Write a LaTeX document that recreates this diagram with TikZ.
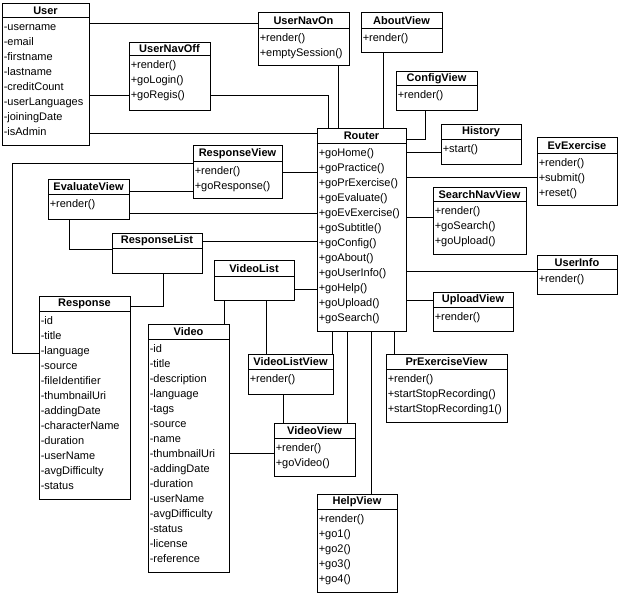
\documentclass[tikz,border=0pt]{standalone}
\usepackage{fontspec}
\setmainfont{Liberation Sans}
\usetikzlibrary{fit}
\tikzset{
  clsbox/.style={draw, fill=white, inner sep=0pt, line width=0.75pt},
  clsline/.style={line width=0.75pt},
  clstitle/.style={inner sep=0pt, font=\fontsize{8.25}{10}\selectfont\bfseries},
  mem/.style={anchor=base west, inner sep=0pt, font=\fontsize{8.25}{10}\selectfont},
  conn/.style={line width=0.75pt}
}
\newcommand\umlclass[8]{% name, x1, y1, x2, y2, ytitle, title, members
  \node[clsbox, fit={(#2,-#3) (#4,-#5)}] (#1) {};
  \draw[clsline] (#2,-#6) -- (#4,-#6);
  \node[clstitle] (#1-t) at ({(#2+#4)/2},{-(#3+#6)/2-0.5}) {#7};
  \foreach \t [count=\i] in {#8} {
    \node[mem] (#1-m\i) at ({#2+1.5},{-#6-13.5-15*(\i-1)}) {\t};
  }
}
\begin{document}
\begin{tikzpicture}[x=0.75pt,y=0.75pt]
\useasboundingbox[fill=white] (0,0) rectangle (620,-596);

\umlclass{user}{2}{3}{89}{145}{17}{User}{-username,-email,-firstname,-lastname,-creditCount,-userLanguages,-joiningDate,-isAdmin}
\umlclass{unoff}{129}{42}{210}{110}{55}{UserNavOff}{+render(),+goLogin(),+goRegis()}
\umlclass{unon}{258}{12}{349}{65}{28}{UserNavOn}{+render(),+emptySession()}
\umlclass{about}{361}{12}{442}{52}{28}{AboutView}{+render()}
\umlclass{config}{396}{71}{477}{110}{85}{ConfigView}{+render()}
\umlclass{history}{441}{124}{521}{164}{139}{History}{+start()}
\umlclass{evex}{537}{137}{617}{205}{153}{EvExercise}{+render(),+submit(),+reset()}
\umlclass{router}{317}{128}{406}{331}{143}{Router}{+goHome(),+goPractice(),+goPrExercise(),+goEvaluate(),+goEvExercise(),+goSubtitle(),+goConfig(),+goAbout(),+goUserInfo(),+goHelp(),+goUpload(),+goSearch()}
\umlclass{snav}{433}{187}{526}{254}{201}{SearchNavView}{+render(),+goSearch(),+goUpload()}
\umlclass{uinfo}{537}{255}{617}{294}{269}{UserInfo}{+render()}
\umlclass{upload}{433}{292}{513}{331}{307}{UploadView}{+render()}
\umlclass{prex}{386}{354}{507}{422}{369}{PrExerciseView}{+render(),+startStopRecording(),+startStopRecording1()}
\umlclass{help}{317}{494}{397}{592}{509}{HelpView}{+render(),+go1(),+go2(),+go3(),+go4()}
\umlclass{vview}{274}{423}{355}{476}{438}{VideoView}{+render(),+goVideo()}
\umlclass{vlview}{248}{354}{333}{394}{369}{VideoListView}{+render()}
\umlclass{video}{148}{324}{229}{572}{339}{Video}{-id,-title,-description,-language,-tags,-source,-name,-thumbnailUri,-addingDate,-duration,-userName,-avgDifficulty,-status,-license,-reference}
\umlclass{response}{39}{296}{130}{499}{311}{Response}{-id,-title,-language,-source,-fileIdentifier,-thumbnailUri,-addingDate,-characterName,-duration,-userName,-avgDifficulty,-status}
\umlclass{vlist}{214}{260}{294}{300}{276}{VideoList}{}
\umlclass{rlist}{112}{233}{202}{273}{248}{ResponseList}{}
\umlclass{evalv}{48}{179}{129}{219}{194}{EvaluateView}{+render()}
\umlclass{rview}{193}{145}{282}{198}{161}{ResponseView}{+render(),+goResponse()}

\begin{scope}[conn]
\draw (user.east |- 0,-23) -- (unon.west |- 0,-23);
\draw (user.east |- 0,-95) -- (unoff.west |- 0,-95);
\draw (unoff.east |- 0,-95) -| (router.north -| 328,0);
\draw (user.east |- 0,-133) -- (router.west |- 0,-133);
\draw (unon.south -| 338,0) -- (router.north -| 338,0);
\draw (about.south -| 383,0) -- (router.north -| 383,0);
\draw (config.south -| 425,0) |- (router.east |- 0,-139);
\draw (router.east |- 0,-152) -- (history.west |- 0,-152);
\draw (router.east |- 0,-177) -- (evex.west |- 0,-177);
\draw (router.east |- 0,-217) -- (snav.west |- 0,-217);
\draw (router.east |- 0,-271) -- (uinfo.west |- 0,-271);
\draw (router.east |- 0,-300) -- (upload.west |- 0,-300);
\draw (router.south -| 332,0) -- (vlview.north -| 332,0);
\draw (router.south -| 347,0) -- (vview.north -| 347,0);
\draw (router.south -| 371,0) -- (help.north -| 371,0);
\draw (router.south -| 394,0) -- (prex.north -| 394,0);
\draw (rview.east |- 0,-172) -- (router.west |- 0,-172);
\draw (evalv.east |- 0,-213) -- (router.west |- 0,-213);
\draw (rlist.east |- 0,-241) -- (router.west |- 0,-241);
\draw (vlist.east |- 0,-289) -- (router.west |- 0,-289);
\draw (evalv.east |- 0,-191) -- (rview.west |- 0,-191);
\draw (rview.west |- 0,-163) -- (12,-163) -- (12,-353) -- (response.west |- 0,-353);
\draw (evalv.south -| 69,0) |- (rlist.west |- 0,-249);
\draw (rlist.south -| 163,0) |- (response.east |- 0,-306);
\draw (vlist.south -| 224,0) -- (video.north -| 224,0);
\draw (vlist.south -| 266,0) -- (vlview.north -| 266,0);
\draw (video.east |- 0,-453) -- (vview.west |- 0,-453);
\draw (vlview.south -| 283,0) -- (vview.north -| 283,0);
\end{scope}
\end{tikzpicture}
\end{document}
